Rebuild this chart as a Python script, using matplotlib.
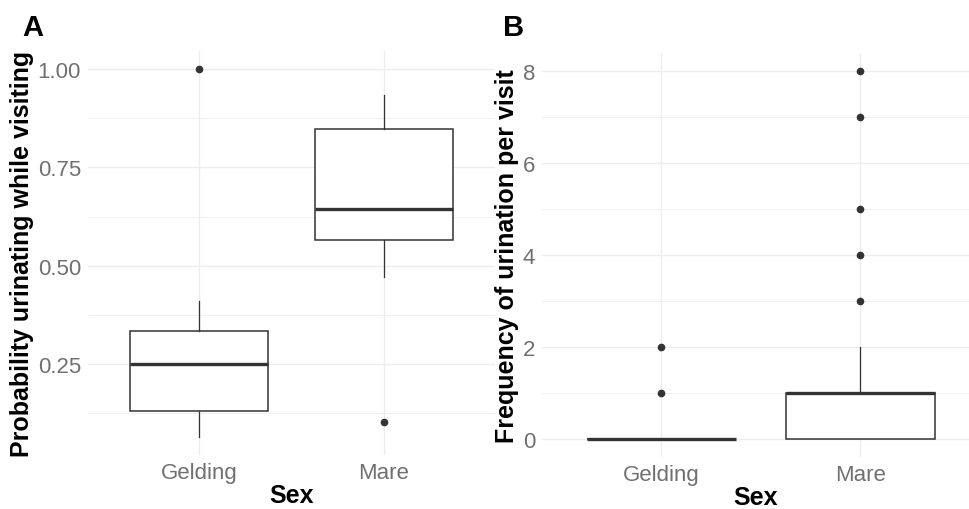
import numpy as np
import matplotlib
matplotlib.use("Agg")
import matplotlib.pyplot as plt
from matplotlib.ticker import MultipleLocator

plt.rcParams['font.family'] = ['Liberation Sans', 'DejaVu Sans']

categories = ['Gelding', 'Mare']

# Panel A: probability of urinating while visiting (box statistics)
prob_q1 = [0.13, 0.564]
prob_med = [0.25, 0.643]
prob_q3 = [0.334, 0.847]
prob_whislo = [0.064, 0.472]
prob_whishi = [0.41, 0.936]
prob_fliers = [[1.00], [0.102]]

# Panel B: frequency of urination per visit
freq_q1 = [0, 0]
freq_med = [0, 1]
freq_q3 = [0, 1]
freq_whislo = [0, 0]
freq_whishi = [0, 2]
freq_fliers = [[1, 2], [3, 4, 5, 7, 8]]

INK = '#333333'
GRID = '#ededed'
TICK = '#707070'


def make_stats(q1, med, q3, lo, hi, fliers):
    return [dict(q1=q1[i], med=med[i], q3=q3[i], whislo=lo[i], whishi=hi[i],
                 fliers=fliers[i], label=categories[i]) for i in range(len(categories))]


def draw_panel(ax, stats, ylim, major, ylabel, ytick_fmt):
    ax.bxp(stats, positions=range(len(stats)), widths=0.75, showcaps=False,
           patch_artist=True,
           boxprops=dict(facecolor='white', edgecolor=INK, linewidth=1.1),
           medianprops=dict(color=INK, linewidth=2.4, solid_capstyle='butt'),
           whiskerprops=dict(color=INK, linewidth=0.9),
           flierprops=dict(marker='o', markersize=4.5, markerfacecolor=INK,
                           markeredgecolor=INK, linestyle='none'),
           zorder=3)
    ax.set_ylim(*ylim)
    ax.yaxis.set_major_locator(MultipleLocator(major))
    ax.yaxis.set_minor_locator(MultipleLocator(major / 2))
    ax.set_xticks(range(len(categories)))
    ax.set_xticklabels(categories)
    ax.yaxis.set_major_formatter(plt.FuncFormatter(ytick_fmt))
    ax.grid(which='major', color=GRID, linewidth=1.0, zorder=0)
    ax.grid(which='minor', axis='y', color=GRID, linewidth=0.6, zorder=0)
    ax.set_axisbelow(True)
    for s in ax.spines.values():
        s.set_visible(False)
    ax.tick_params(which='both', length=0, labelsize=16, labelcolor=TICK, pad=5)
    ax.set_ylabel(ylabel, fontsize=18, fontweight='bold', labelpad=3)
    ax.set_xlabel('Sex', fontsize=18, fontweight='bold', labelpad=0)


fig = plt.figure(figsize=(9.69, 5.10), dpi=100)
W, H = 969, 510

axA = fig.add_axes([88 / W, (H - 456) / H, (495 - 88) / W, (456 - 52) / H])
statsA = make_stats(prob_q1, prob_med, prob_q3, prob_whislo, prob_whishi, prob_fliers)
draw_panel(axA, statsA, (0.017, 1.047), 0.25, 'Probability urinating while visiting',
           lambda v, p: f'{v:.2f}')
axA.set_xlim(-0.6, 1.6)

axB = fig.add_axes([542 / W, (H - 458) / H, (969 - 542) / W, (458 - 54) / H])
statsB = make_stats(freq_q1, freq_med, freq_q3, freq_whislo, freq_whishi, freq_fliers)
draw_panel(axB, statsB, (-0.4, 8.4), 2, 'Frequency of urination per visit',
           lambda v, p: f'{v:.0f}')
axB.set_xlim(-0.6, -0.6 + 427 / 199)

fig.text(22 / W, 1 - 28 / H, 'A', fontsize=21, fontweight='bold', va='center', ha='left')
fig.text(503 / W, 1 - 28 / H, 'B', fontsize=21, fontweight='bold', va='center', ha='left')

fig.savefig('out.png', dpi=100)
